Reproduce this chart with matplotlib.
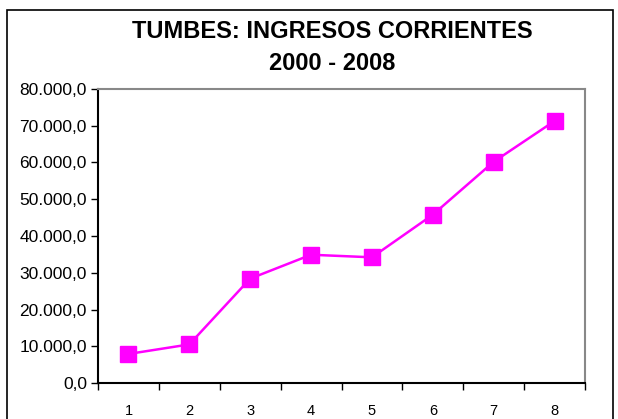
import matplotlib.pyplot as plt
from matplotlib.ticker import FuncFormatter
from matplotlib.patches import Rectangle

# datos
categorias = [1, 2, 3, 4, 5, 6, 7, 8]
ingresos = [7900, 10500, 28400, 34900, 34200, 45800, 60200, 71300]
yticks = [0, 10000, 20000, 30000, 40000, 50000, 60000, 70000, 80000]

plt.rcParams['font.family'] = ['Liberation Sans', 'DejaVu Sans']

fig = plt.figure(figsize=(6.18, 4.19), dpi=100)
ax = fig.add_axes([98 / 618, 1 - 383 / 419, (585 - 98) / 618, (383 - 89) / 419])

# marco de la figura
fig.patches.append(Rectangle((7 / 618, -0.05), (613 - 7) / 618, 1.05 - 10 / 419,
                             transform=fig.transFigure, fill=False,
                             edgecolor='black', linewidth=1.2))

ax.plot(categorias, ingresos, color='#FF00FF', linewidth=1.8,
        marker='s', markersize=11.5, markeredgecolor='#FF00FF')

ax.set_xlim(0.5, 8.5)
ax.set_ylim(0, 80000)
ax.set_yticks(yticks)
ax.yaxis.set_major_formatter(FuncFormatter(
    lambda v, p: f'{v:,.1f}'.replace(',', 'X').replace('.', ',').replace('X', '.')))
ax.set_xticks([x + 0.5 for x in range(0, 9)])
ax.set_xticklabels([])
ax.set_xticks(categorias, minor=True)
ax.set_xticklabels([str(c) for c in categorias], minor=True)
ax.tick_params(axis='x', which='minor', length=0, pad=15, labelsize=10.5)
ax.tick_params(axis='x', which='major', length=5, width=1, direction='out')
ax.tick_params(axis='y', length=5, width=1, direction='out', labelsize=12.5, pad=3)

ax.spines['left'].set_color('black')
ax.spines['bottom'].set_color('black')
ax.spines['top'].set_color('#888888')
ax.spines['right'].set_color('#888888')
for s in ax.spines.values():
    s.set_linewidth(1.5)

fig.text(332 / 618, 1 - 32 / 419, 'TUMBES: INGRESOS CORRIENTES', ha='center', va='center',
         fontsize=17, fontweight='bold')
fig.text(332 / 618, 1 - 63 / 419, '2000 - 2008', ha='center', va='center',
         fontsize=17, fontweight='bold')

fig.savefig('out.png', dpi=100)
